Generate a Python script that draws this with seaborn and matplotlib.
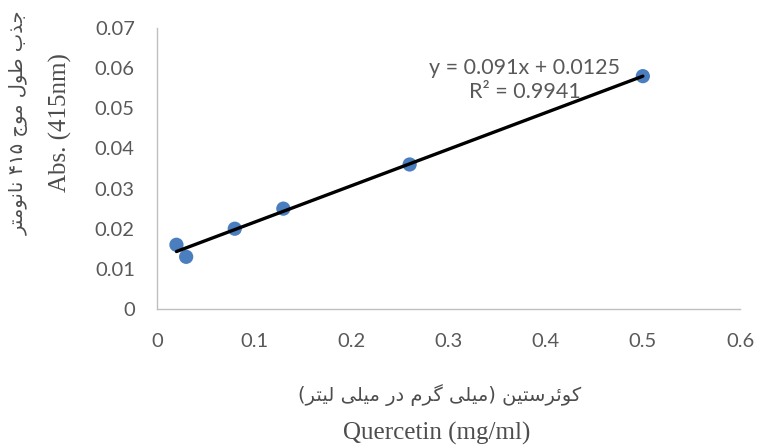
import re
import numpy as np
import pandas as pd
import seaborn as sns
import matplotlib.pyplot as plt

# data
conc = [0.02, 0.03, 0.08, 0.13, 0.26, 0.50]
absorb = [0.016, 0.013, 0.020, 0.025, 0.036, 0.058]
slope, intercept, r2 = 0.091, 0.0125, 0.9941
x_ticks = [0, 0.1, 0.2, 0.3, 0.4, 0.5, 0.6]
y_ticks = [0, 0.01, 0.02, 0.03, 0.04, 0.05, 0.06, 0.07]

fa_ylabel = "جذب طول موج ۴۱۵ نانومتر"
en_ylabel = "Abs. (415nm)"
fa_xlabel = "کوئرستین (میلی گرم در میلی لیتر)"
en_xlabel = "Quercetin (mg/ml)"

# matplotlib has no arabic shaping, so map letters to presentation forms by hand
# (isolated, final, initial, medial)
FORMS = {
    'ا': ('\uFE8D', '\uFE8E', None, None),
    'ب': ('\uFE8F', '\uFE90', '\uFE91', '\uFE92'),
    'ت': ('\uFE95', '\uFE96', '\uFE97', '\uFE98'),
    'ج': ('\uFE9D', '\uFE9E', '\uFE9F', '\uFEA0'),
    'د': ('\uFEA9', '\uFEAA', None, None),
    'ذ': ('\uFEAB', '\uFEAC', None, None),
    'ر': ('\uFEAD', '\uFEAE', None, None),
    'س': ('\uFEB1', '\uFEB2', '\uFEB3', '\uFEB4'),
    'ط': ('\uFEC1', '\uFEC2', '\uFEC3', '\uFEC4'),
    'ل': ('\uFEDD', '\uFEDE', '\uFEDF', '\uFEE0'),
    'م': ('\uFEE1', '\uFEE2', '\uFEE3', '\uFEE4'),
    'ن': ('\uFEE5', '\uFEE6', '\uFEE7', '\uFEE8'),
    'و': ('\uFEED', '\uFEEE', None, None),
    'ئ': ('\uFE89', '\uFE8A', '\uFE8B', '\uFE8C'),
    'ک': ('\uFB8E', '\uFB8F', '\uFB90', '\uFB91'),
    'گ': ('\uFB92', '\uFB93', '\uFB94', '\uFB95'),
    'ی': ('\uFBFC', '\uFBFD', '\uFBFE', '\uFBFF'),
}


def rtl(text):
    out = []
    for i, c in enumerate(text):
        if c not in FORMS:
            out.append(c)
            continue
        f = FORMS[c]
        prev = text[i - 1] if i > 0 else ''
        nxt = text[i + 1] if i + 1 < len(text) else ''
        jp = prev in FORMS and FORMS[prev][2] is not None
        jn = nxt in FORMS and f[2] is not None
        if jp and jn:
            out.append(f[3])
        elif jp:
            out.append(f[1])
        elif jn:
            out.append(f[2])
        else:
            out.append(f[0])
    parts = re.findall(r'[\u06F0-\u06F9]+|.', ''.join(out))[::-1]
    mirror = {'(': ')', ')': '('}
    return ''.join(mirror.get(p, p) for p in parts)


sns.set_theme(style="white")
plt.rcParams['font.family'] = ['Lato', 'DejaVu Sans']

df = pd.DataFrame({'conc': conc, 'abs': absorb})
fit_x = np.array([min(conc), max(conc)])
fit = pd.DataFrame({'conc': fit_x, 'abs': slope * fit_x + intercept})

fig = plt.figure(figsize=(7.6, 4.47), dpi=100)
ax = fig.add_axes([0.2066, 0.3087, 0.7671, 0.6287])

sns.scatterplot(data=df, x='conc', y='abs', ax=ax, s=105, color='#4a7ebf',
                edgecolor='none', zorder=2)
sns.lineplot(data=fit, x='conc', y='abs', ax=ax, color='black', linewidth=2.4,
             zorder=3)

ax.set_xlim(0, 0.6)
ax.set_ylim(0, 0.07)
ax.set_xticks(x_ticks)
ax.set_yticks(y_ticks)
ax.set_xticklabels([f"{v:g}" for v in x_ticks])
ax.set_yticklabels([f"{v:g}" for v in y_ticks])
ax.tick_params(axis='both', length=0, labelsize=14.5, labelcolor='#595959')
ax.tick_params(axis='y', pad=16)
ax.tick_params(axis='x', pad=17)
ax.set_xlabel('')
ax.set_ylabel('')
sns.despine(ax=ax)
for side in ['left', 'bottom']:
    ax.spines[side].set_color('#bfbfbf')
    ax.spines[side].set_linewidth(1)

ax.text(0.631, 0.815, f"y = {slope}x + {intercept}\nR² = {r2}",
        transform=ax.transAxes, ha='center', va='center', fontsize=15.5,
        color='#595959', linespacing=1.2)

# axis titles, persian above/left of english
fig.text(19 / 760, 1 - 123 / 447, rtl(fa_ylabel), rotation=90, ha='center',
         va='center', fontsize=14, color='#4d4d4d', family=['DejaVu Sans'])
fig.text(60 / 760, 1 - 123 / 447, en_ylabel, rotation=90, ha='center',
         va='center', fontsize=18, color='#4d4d4d', family=['Liberation Serif'])
fig.text(440 / 760, 1 - 395 / 447, rtl(fa_xlabel), ha='center', va='center',
         fontsize=14, color='#4d4d4d', family=['DejaVu Sans'])
fig.text(437 / 760, 2 / 447, en_xlabel, ha='center', va='bottom',
         fontsize=18, color='#4d4d4d', family=['Liberation Serif'])

fig.savefig('out.png', dpi=100)
